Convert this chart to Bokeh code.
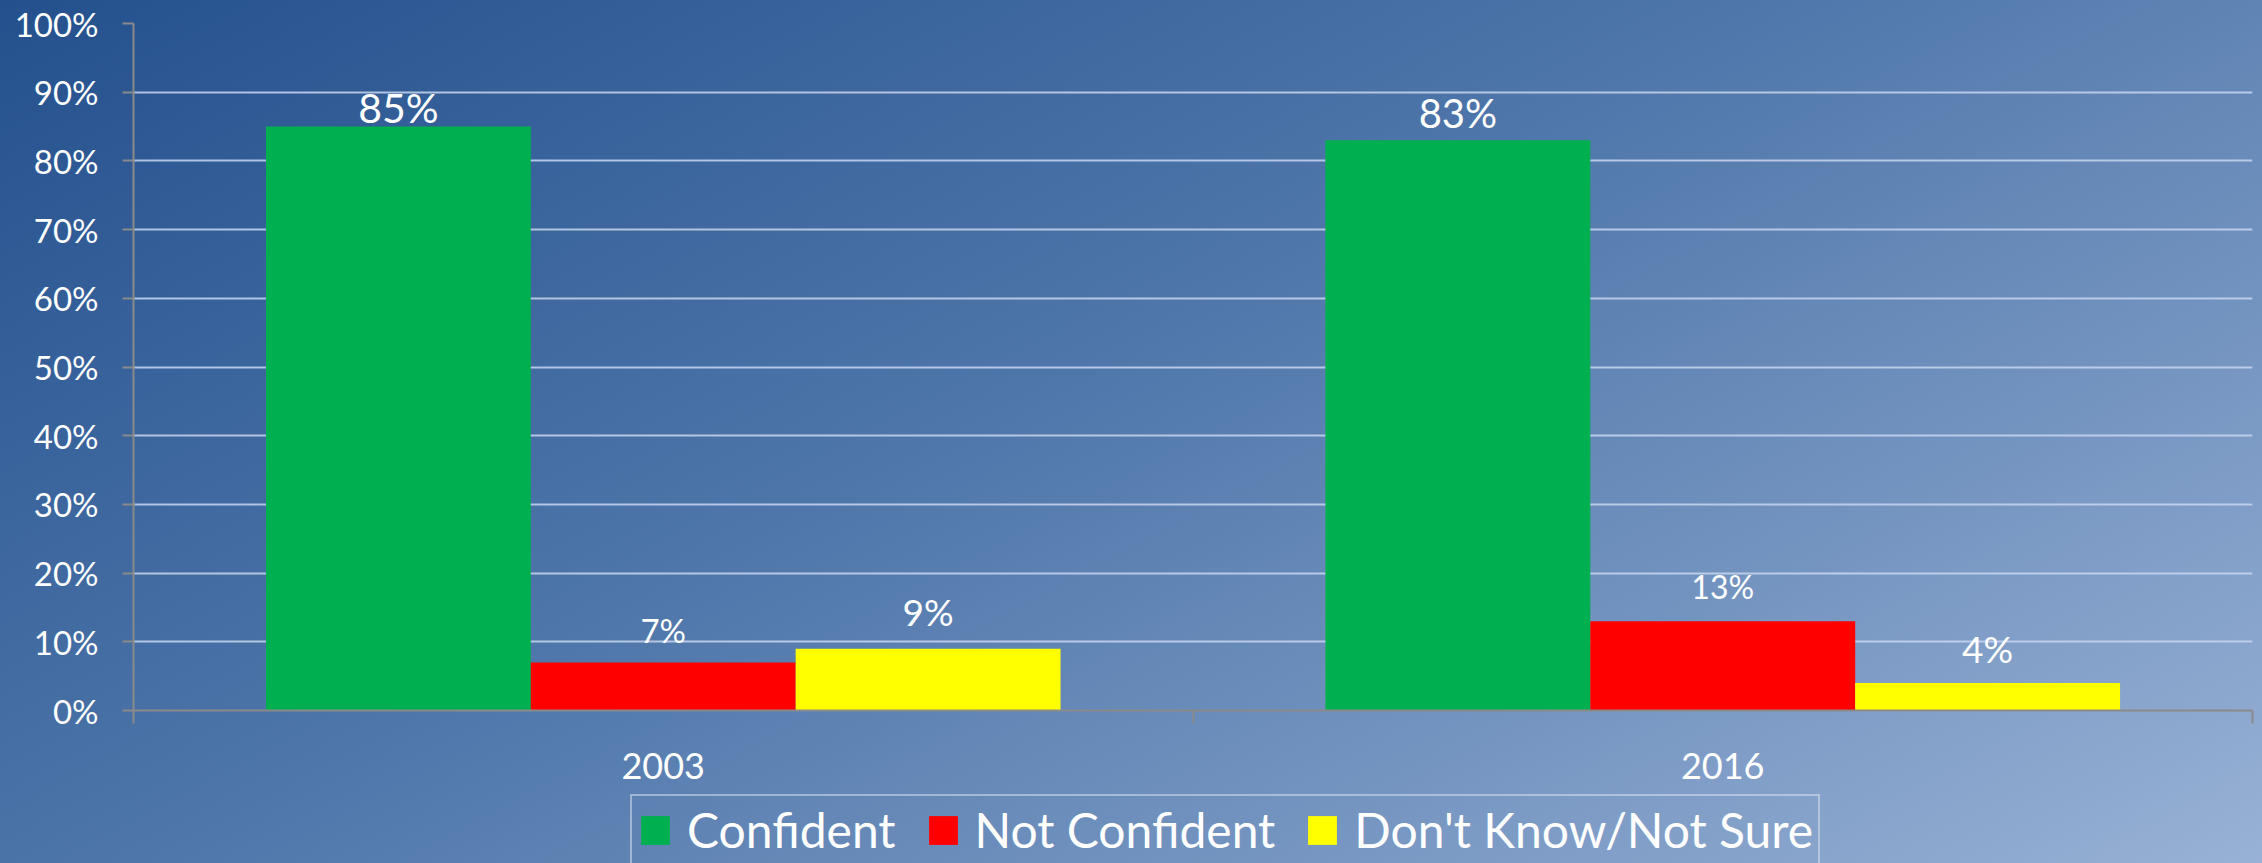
from bokeh.plotting import figure
from bokeh.layouts import column
from bokeh.models import (ColumnDataSource, Range1d, FixedTicker, PrintfTickFormatter,
                          Legend, LegendItem)
from bokeh.core.properties import value
from bokeh.embed import file_html
from bokeh.resources import INLINE

# ---- data ----
years = ["2003", "2016"]
series_names = ["Confident", "Not Confident", "Don't Know/Not Sure"]
confident = [85, 83]
not_confident = [7, 13]
dont_know = [9, 4]
y_ticks = [0, 10, 20, 30, 40, 50, 60, 70, 80, 90, 100]

# ---- styles ----
series_colors = ["#00B050", "#FF0000", "#FFFF00"]
# per-label font size / gap of the label centre above the bar top (px)
label_sizes = [["41px", "40px"], ["33px", "32px"], ["37px", "37px"]]
label_gaps = [[19, 27], [32, 35], [37, 35]]
FONT = "Lato"
AXIS_GRAY = "#8A8A8A"
GRADIENT = ("linear-gradient(152deg, rgb(36,80,141) 0%, rgb(78,118,170) 45%, "
            "rgb(152,177,213) 100%)")

W, CH, LH = 2262, 789, 74

p = figure(width=W, height=CH, output_backend="svg", toolbar_location=None,
           x_range=Range1d(0, len(years)), y_range=Range1d(0, 100),
           min_border_left=133, min_border_right=10, min_border_top=23,
           min_border_bottom=CH - 710)
p.background_fill_alpha = 0
p.border_fill_alpha = 0
p.outline_line_color = None

series_values = [confident, not_confident, dont_know]
bar_w = 0.25
lab_x, lab_y, lab_t, lab_s, lab_off = [], [], [], [], []
for j, vals in enumerate(series_values):
    xs = [i + 0.5 + (j - 1) * bar_w for i in range(len(years))]
    src = ColumnDataSource(dict(x=xs, top=vals))
    p.vbar(x="x", top="top", width=bar_w, bottom=0, source=src,
           fill_color=series_colors[j], line_color=None)
    for i, v in enumerate(vals):
        lab_x.append(xs[i])
        lab_y.append(v)
        lab_t.append(f"{v}%")
        lab_s.append(label_sizes[j][i])
        lab_off.append(-label_gaps[j][i])

lsrc = ColumnDataSource(dict(x=lab_x, y=lab_y, t=lab_t, s=lab_s, off=lab_off))
p.text(x="x", y="y", text="t", source=lsrc, text_font=value(FONT),
       text_font_size="s", y_offset="off", text_align="center",
       text_baseline="middle", text_color="white")

# ---- axes ----
xa = p.xaxis[0]
xa.ticker = FixedTicker(ticks=[i + 0.5 for i in range(len(years))],
                        minor_ticks=list(range(len(years) + 1)))
xa.major_label_overrides = {i + 0.5: y for i, y in enumerate(years)}
xa.major_tick_out = 0
xa.major_tick_in = 0
xa.major_tick_line_color = None
xa.minor_tick_out = 13
xa.minor_tick_in = 0
xa.minor_tick_line_color = AXIS_GRAY
xa.minor_tick_line_width = 2
xa.axis_line_color = AXIS_GRAY
xa.axis_line_width = 2
xa.major_label_text_font = FONT
xa.major_label_text_font_size = "36px"
xa.major_label_text_color = "white"
xa.major_label_standoff = 29

ya = p.yaxis[0]
ya.ticker = FixedTicker(ticks=y_ticks, minor_ticks=[])
ya.formatter = PrintfTickFormatter(format="%d%%")
ya.major_tick_out = 11
ya.major_tick_in = 0
ya.major_tick_line_color = AXIS_GRAY
ya.major_tick_line_width = 2
ya.axis_line_color = AXIS_GRAY
ya.axis_line_width = 2
ya.major_label_text_font = FONT
ya.major_label_text_font_size = "33px"
ya.major_label_text_color = "white"
ya.major_label_standoff = 24

p.xgrid.grid_line_color = None
p.ygrid.grid_line_color = "#C8D6F0"
p.ygrid.grid_line_alpha = 0.85
p.ygrid.grid_line_width = 2

# ---- legend strip (runs off the bottom edge, like the reference) ----
p2 = figure(width=W, height=LH, output_backend="svg", toolbar_location=None,
            x_range=Range1d(0, 1), y_range=Range1d(0, 1),
            x_axis_type=None, y_axis_type=None, min_border=0)
p2.background_fill_alpha = 0
p2.border_fill_alpha = 0
p2.outline_line_color = None
p2.grid.visible = False
swatches = []
for j, name in enumerate(series_names):
    # swatch-only renderer: its single bar lies outside the visible range
    r = p2.vbar(x="x", top="top", width=0.1,
                source=ColumnDataSource(dict(x=[-5], top=[0])),
                fill_color=series_colors[j], line_color=None)
    swatches.append(LegendItem(label=name, renderers=[r]))

legend = Legend(items=swatches, orientation="horizontal", location=(497, -2),
                padding=5, margin=0, spacing=29, label_standoff=14,
                glyph_width=36, glyph_height=36,
                label_text_font=FONT, label_text_font_size="48px",
                label_text_color="white",
                background_fill_alpha=0, border_line_color="#E2E8F2",
                border_line_width=2)
p2.add_layout(legend, "center")

layout = column(p, p2, spacing=0, styles={"background": GRADIENT})

open("out.html", "w").write(file_html(layout, INLINE))
